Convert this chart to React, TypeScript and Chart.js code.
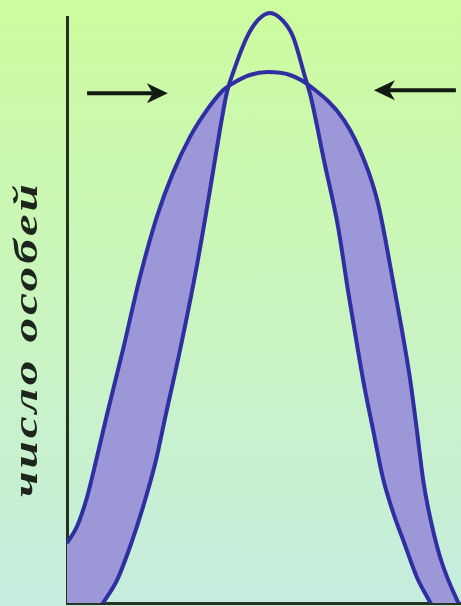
import React, { useEffect, useRef } from "react";
import { Chart, registerables } from "chart.js";

Chart.register(...registerables);

// Wide (before selection) distribution: trait value -> number of individuals
const wideX = [0, 2.5, 5.1, 7.6, 10.2, 14.2, 18.5, 22.8, 26.9, 31.2, 35.5, 39.6, 41.9, 46.4, 51.0, 56.6, 61.9, 70.3, 75.4, 78.9, 82.7, 85.0, 87.1, 88.8, 90.4, 91.6, 94.7, 99.0, 100];
const wideY = [10.2, 13.0, 18.1, 24.9, 32.3, 43.2, 55.6, 65.9, 73.4, 79.5, 84.1, 87.5, 88.6, 90.1, 90.6, 90.1, 88.1, 82.4, 75.6, 68.3, 55.1, 46.6, 38.1, 29.5, 21.0, 16.4, 7.8, 0.5, -0.7];

// Narrow (after stabilizing selection) distribution
const narrowX = [0, 4.6, 9.1, 12.7, 16.0, 19.3, 22.6, 24.9, 28.7, 33.0, 36.3, 38.8, 40.6, 42.1, 45.7, 48.5, 51.5, 54.6, 57.4, 60.4, 61.9, 65.2, 68.8, 71.3, 73.4, 75.4, 77.7, 80.2, 83.0, 85.3, 88.8, 92.1, 95.9, 100];
const narrowY = [-7.7, -4.3, 0, 3.9, 9.6, 16.4, 24.4, 31.6, 43.2, 57.7, 70.5, 80.7, 87.2, 90.4, 96.6, 99.5, 100.7, 99.5, 96.6, 89.8, 86.3, 75.6, 64.2, 53.4, 44.9, 37.2, 29.5, 21.3, 15.0, 10.8, 4.4, 0.2, -4.6, -8.0];

// Selection pressure arrows (in data units)
const arrowFromX = [5.1, 98.7];
const arrowToX = [25.6, 77.9];
const arrowLevelY = [87.0, 87.5];

const yAxisTitle = "число особей";

const toPoints = (xs: number[], ys: number[]) => xs.map((x, i) => ({ x, y: ys[i] }));

const decorPlugin = {
  id: "decor",
  afterDatasetsDraw(chart: any) {
    const { ctx, chartArea, scales } = chart;
    const xs = scales.x;
    const ys = scales.y;
    ctx.save();
    ctx.strokeStyle = "#121b12";
    ctx.fillStyle = "#121b12";
    ctx.lineWidth = 4;
    for (let i = 0; i < arrowFromX.length; i++) {
      const x0 = xs.getPixelForValue(arrowFromX[i]);
      const x1 = xs.getPixelForValue(arrowToX[i]);
      const yy = ys.getPixelForValue(arrowLevelY[i]);
      const dir = Math.sign(x1 - x0);
      const headLen = 21;
      const half = 10;
      const notch = 6;
      ctx.beginPath();
      ctx.moveTo(x0, yy);
      ctx.lineTo(x1 - dir * (headLen - notch), yy);
      ctx.stroke();
      ctx.beginPath();
      ctx.moveTo(x1, yy);
      ctx.lineTo(x1 - dir * headLen, yy - half);
      ctx.lineTo(x1 - dir * (headLen - notch), yy);
      ctx.lineTo(x1 - dir * headLen, yy + half);
      ctx.closePath();
      ctx.fill();
    }
    ctx.restore();

    ctx.save();
    const cx = chartArea.left - 30;
    const cy = chartArea.top + (chartArea.bottom - chartArea.top) * 0.55;
    ctx.translate(cx, cy);
    ctx.rotate(-Math.PI / 2);
    ctx.scale(1.45, 1);
    ctx.font = 'italic bold 34px "Liberation Serif"';
    try {
      (ctx as any).letterSpacing = "2px";
    } catch (e) {}
    ctx.textAlign = "center";
    ctx.textBaseline = "alphabetic";
    ctx.fillStyle = "#1d261d";
    ctx.fillText(yAxisTitle, 0, 0);
    ctx.restore();
  },
};

export default function App() {
  const ref = useRef<HTMLCanvasElement>(null);

  useEffect(() => {
    document.body.style.margin = "0";
    const lineColor = "#2f2fa3";
    const areaColor = "#9c98d7";
    const axisColor = "#24321f";
    const chart = new Chart(ref.current as HTMLCanvasElement, {
      type: "line",
      data: {
        datasets: [
          {
            data: toPoints(wideX, wideY),
            borderColor: lineColor,
            borderWidth: 4,
            pointRadius: 0,
            cubicInterpolationMode: "monotone",
            fill: { target: 1, above: areaColor, below: "rgba(0,0,0,0)" },
            clip: { left: 0, top: 20, right: 0, bottom: 0 },
          } as any,
          {
            data: toPoints(narrowX, narrowY),
            borderColor: lineColor,
            borderWidth: 4,
            pointRadius: 0,
            cubicInterpolationMode: "monotone",
            fill: false,
            clip: { left: 0, top: 20, right: 0, bottom: 0 },
          } as any,
        ],
      },
      options: {
        animation: false,
        responsive: false,
        layout: { padding: { left: 67, top: 17, right: 0, bottom: 3 } },
        plugins: {
          legend: { display: false },
          tooltip: { enabled: false },
          filler: { drawTime: "beforeDatasetsDraw" },
        } as any,
        scales: {
          x: {
            type: "linear",
            min: 0,
            max: 100,
            z: 1,
            ticks: { display: false },
            grid: { display: false, drawTicks: false },
            border: { display: true, color: axisColor, width: 3 },
          },
          y: {
            type: "linear",
            min: 0,
            max: 100,
            z: 1,
            ticks: { display: false },
            grid: { display: false, drawTicks: false },
            border: { display: true, color: axisColor, width: 3 },
          },
        },
      },
      plugins: [decorPlugin],
    });
    return () => chart.destroy();
  }, []);

  return (
    <div
      style={{
        position: "fixed",
        left: 0,
        top: 0,
        width: 461,
        height: 606,
        background: "linear-gradient(to bottom, #cdfb9e 0%, #c9f4c2 55%, #c5ecdf 100%)",
      }}
    >
      <canvas ref={ref} width={461} height={606} style={{ display: "block" }} />
    </div>
  );
}
